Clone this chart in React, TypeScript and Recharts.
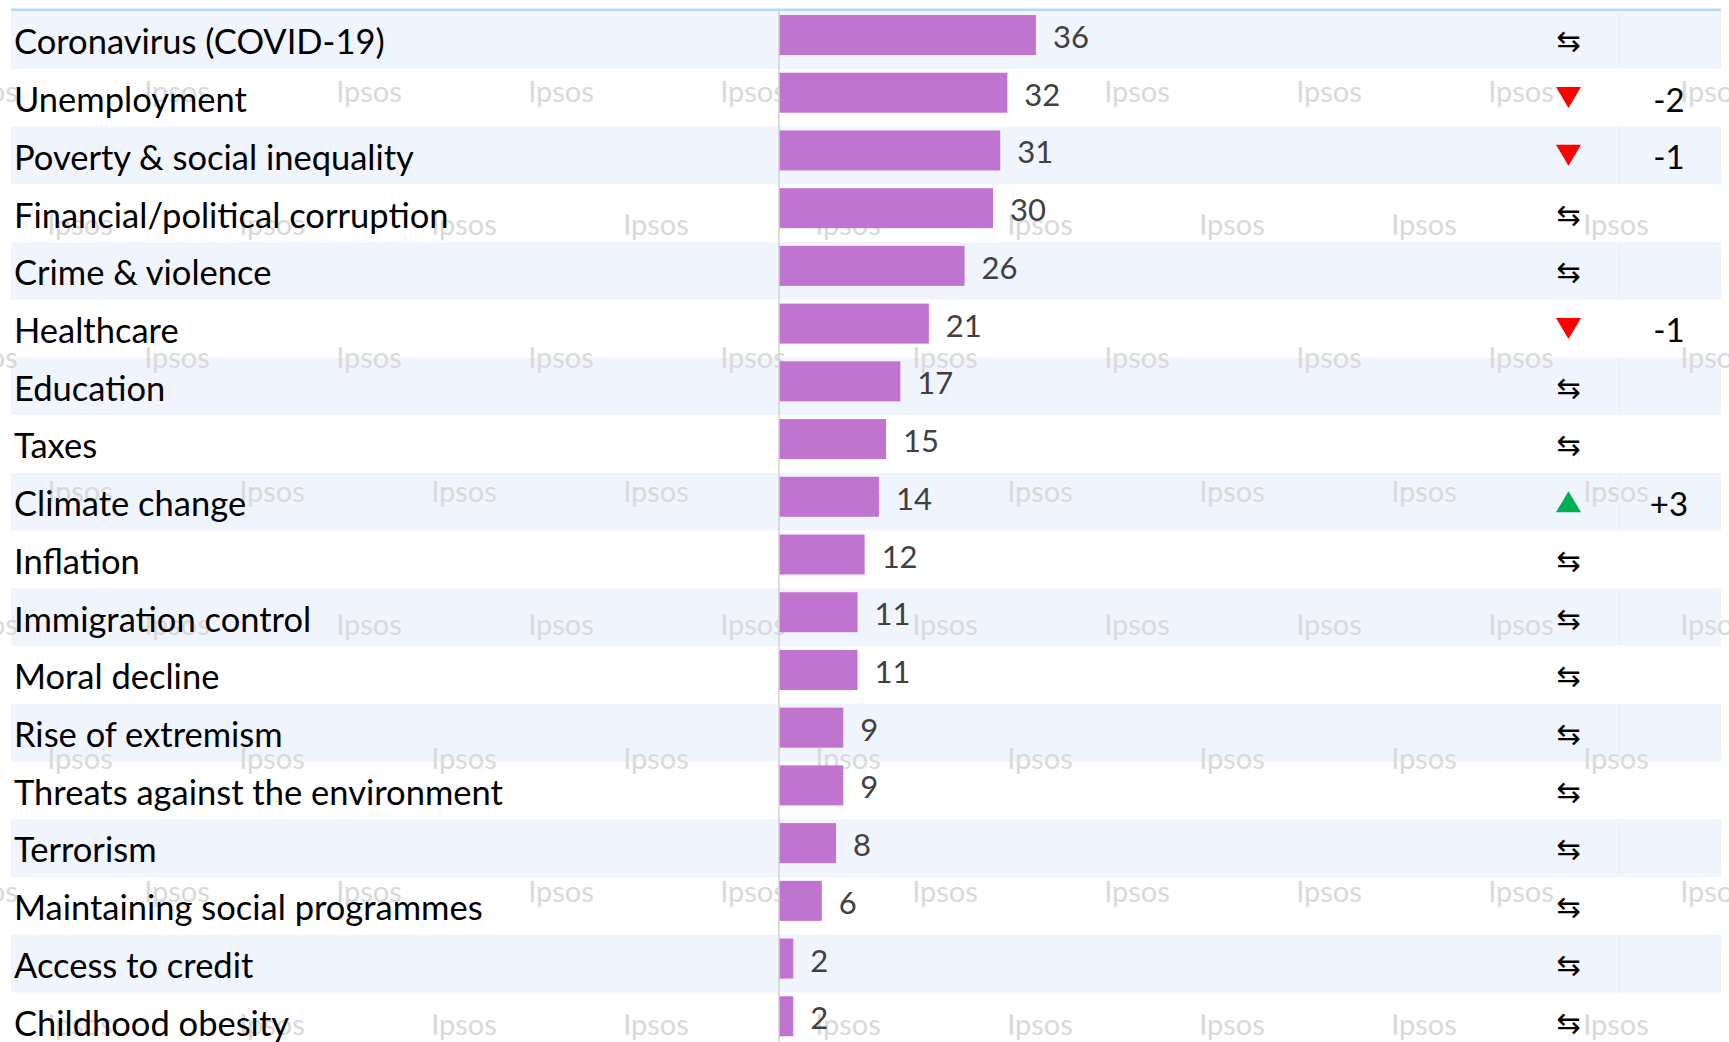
import React from "react";
import { BarChart, Bar, XAxis, YAxis, LabelList } from "recharts";

const categories = [
  "Coronavirus (COVID-19)",
  "Unemployment",
  "Poverty & social inequality",
  "Financial/political corruption",
  "Crime & violence",
  "Healthcare",
  "Education",
  "Taxes",
  "Climate change",
  "Inflation",
  "Immigration control",
  "Moral decline",
  "Rise of extremism",
  "Threats against the environment",
  "Terrorism",
  "Maintaining social programmes",
  "Access to credit",
  "Childhood obesity",
];

const scores = [36, 32, 31, 30, 26, 21, 17, 15, 14, 12, 11, 11, 9, 9, 8, 6, 2, 2];

// same / down / up vs previous wave
const trends = [
  "same", "down", "down", "same", "same", "down", "same", "same", "up",
  "same", "same", "same", "same", "same", "same", "same", "same", "same",
];

const changes = ["", "-2", "-1", "", "", "-1", "", "", "+3", "", "", "", "", "", "", "", "", ""];

const data = categories.map((name, i) => ({ name, score: scores[i] }));

const W = 1729;
const H = 1050;
const TOP = 11;
const ROW_H = (H - TOP) / categories.length;
const BAND_LEFT = 11;
const BAND_RIGHT = 1721;
const BAR_SHIFT = -5;
const MARK_X = 1568.5;
const CHANGE_X = 1669;
const FONT = "Lato, 'Noto Sans', sans-serif";

// faint "Ipsos" watermark tiles
const watermark: React.ReactNode[] = [];
for (let r = 0; r < 8; r++) {
  const wy = 90 + r * 133.4;
  const off = r % 2 === 0 ? -15 : 80;
  for (let k = 0; k < 10; k++) {
    watermark.push(
      <text
        key={`${r}-${k}`}
        x={off + k * 192}
        y={wy}
        textAnchor="middle"
        dominantBaseline="central"
        fontSize={29}
        fontFamily={FONT}
        fill="#D9D9D9"
      >
        Ipsos
      </text>
    );
  }
}

function RowBand(props: any) {
  const { y, height, index } = props;
  const top = y + height / 2 - ROW_H / 2;
  const shaded = index % 2 === 0;
  const id = `row-clip-${index}`;
  return (
    <g>
      {shaded && (
        <rect x={BAND_LEFT} y={top} width={BAND_RIGHT - BAND_LEFT} height={ROW_H} fill="#EFF4FD" />
      )}
      {shaded && <line x1={1619} x2={1619} y1={top} y2={top + ROW_H} stroke="#E8EEF7" />}
      {index === 0 && (
        <line x1={BAND_LEFT} x2={BAND_RIGHT} y1={top - 1.5} y2={top - 1.5} stroke="#BBD6F4" strokeWidth={2.5} />
      )}
      <clipPath id={id}>
        <rect x={0} y={top} width={W} height={ROW_H} />
      </clipPath>
      <g clipPath={`url(#${id})`}>{watermark}</g>
    </g>
  );
}

function ShiftedBar(props: any) {
  const { x, y, width, height, fill } = props;
  return <rect x={x} y={y + BAR_SHIFT} width={width} height={height} fill={fill} />;
}

function ValueLabel(props: any) {
  const vb = props.viewBox ?? props;
  const { x, y, width, height } = vb;
  return (
    <text
      x={x + width + 17}
      y={y + height / 2 + BAR_SHIFT + 1}
      dominantBaseline="central"
      fontSize={31}
      fontFamily={FONT}
      fill="#404040"
    >
      {props.value}
    </text>
  );
}

function RowTick(props: any) {
  const { y, index, payload } = props;
  const trend = trends[index];
  return (
    <g>
      <text x={14} y={y + 1} dominantBaseline="central" fontSize={34.5} fontFamily={FONT} fill="#000">
        {payload.value}
      </text>
      {trend === "same" && (
        <text
          x={MARK_X}
          y={y + 1.5}
          textAnchor="middle"
          dominantBaseline="central"
          fontSize={29}
          fontFamily="'DejaVu Sans', sans-serif"
          fill="#000"
        >
          ⇆
        </text>
      )}
      {trend === "down" && (
        <polygon
          points={`${MARK_X - 12.5},${y - 10.5} ${MARK_X + 12.5},${y - 10.5} ${MARK_X},${y + 10.5}`}
          fill="#FF0000"
        />
      )}
      {trend === "up" && (
        <polygon
          points={`${MARK_X - 12.5},${y + 10.5} ${MARK_X + 12.5},${y + 10.5} ${MARK_X},${y - 10.5}`}
          fill="#00B050"
        />
      )}
      {changes[index] && (
        <text
          x={CHANGE_X}
          y={y + 1}
          textAnchor="middle"
          dominantBaseline="central"
          fontSize={33}
          fontFamily={FONT}
          fill="#000"
        >
          {changes[index]}
        </text>
      )}
    </g>
  );
}

export default function App() {
  return (
    <div
      style={{
        position: "absolute",
        left: 0,
        top: 0,
        width: W,
        height: 1042,
        overflow: "hidden",
        background: "#fff",
        fontFamily: FONT,
      }}
    >
      <BarChart
        width={W}
        height={H}
        data={data}
        layout="vertical"
        margin={{ top: TOP, right: W - BAND_RIGHT, bottom: 0, left: 0 }}
      >
        <XAxis type="number" domain={[0, 132]} hide />
        <YAxis
          type="category"
          dataKey="name"
          width={779}
          interval={0}
          tickLine={false}
          axisLine={{ stroke: "#D0D0D0", strokeWidth: 1.5 }}
          tick={<RowTick />}
        />
        <Bar
          dataKey="score"
          fill="#BF74CF"
          barSize={40}
          isAnimationActive={false}
          background={<RowBand />}
          shape={<ShiftedBar />}
        >
          <LabelList dataKey="score" content={<ValueLabel />} />
        </Bar>
      </BarChart>
    </div>
  );
}
